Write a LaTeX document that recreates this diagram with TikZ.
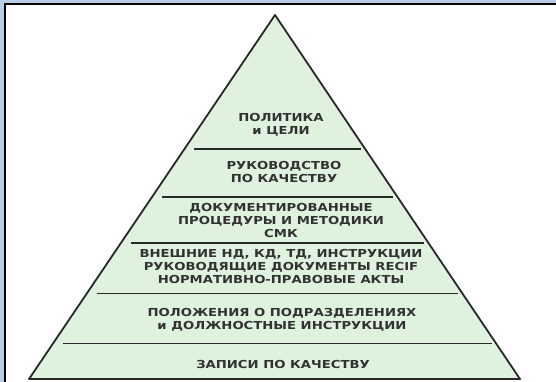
\documentclass[tikz,border=0pt]{standalone}
\usepackage{fontspec}
\newfontfamily\pyrfont{DejaVu Sans}[FakeStretch=1.2]
\definecolor{frameblue}{RGB}{183,206,230}
\definecolor{pyrgreen}{RGB}{222,242,222}
\definecolor{pyrline}{RGB}{40,40,40}
\definecolor{pyrtext}{RGB}{50,50,50}
\begin{document}
\begin{tikzpicture}[x=1pt,y=-1pt,
  lbl/.style={align=center,inner sep=0pt,text=pyrtext,
    font=\pyrfont\bfseries\fontsize{11}{13}\selectfont},
  divider/.style={draw=pyrline,line width=1.8pt},
  outline/.style={draw=pyrline,line width=1.8pt,line join=round,fill=pyrgreen}]
\useasboundingbox (0,0) rectangle (556,382);
\fill[white] (0,0) rectangle (556,382);
% frame
\fill[frameblue] (0,0) rectangle (556,3.5);
\fill[frameblue] (0,0) rectangle (3.5,382);
\fill[black] (3.5,3.5) rectangle (556,5.5);
\fill[black] (3.5,3.5) rectangle (5.5,382);
% pyramid
\coordinate (apex) at (275,15);
\coordinate (bl) at (29,379);
\coordinate (br) at (520,379);
\draw[outline] (apex) -- (br) -- (bl) -- cycle;
% dividers
\coordinate (d1l) at (194,149);   \coordinate (d1r) at (361,149);
\coordinate (d2l) at (162,197);   \coordinate (d2r) at (393,197);
\coordinate (d3l) at (131,243);   \coordinate (d3r) at (424,243);
\coordinate (d4l) at (97,293.5);  \coordinate (d4r) at (458,293.5);
\coordinate (d5l) at (63,343.5);  \coordinate (d5r) at (492,343.5);
\draw[divider] (d1l) -- (d1r);
\draw[divider] (d2l) -- (d2r);
\draw[divider] (d3l) -- (d3r);
\draw[divider] (d4l) -- (d4r);
\draw[divider] (d5l) -- (d5r);
% labels
\node[lbl] (t1) at (281,125) {ПОЛИТИКА\\и ЦЕЛИ};
\node[lbl] (t2) at (284,172) {РУКОВОДСТВО\\ПО КАЧЕСТВУ};
\node[lbl] (t3) at (281,220.5) {ДОКУМЕНТИРОВАННЫЕ\\ПРОЦЕДУРЫ И МЕТОДИКИ\\СМК};
\node[lbl] (t4) at (281,266) {ВНЕШНИЕ НД, КД, ТД, ИНСТРУКЦИИ\\РУКОВОДЯЩИЕ ДОКУМЕНТЫ RECIF\\НОРМАТИВНО-ПРАВОВЫЕ АКТЫ};
\node[lbl] (t5) at (282,319.5) {ПОЛОЖЕНИЯ О ПОДРАЗДЕЛЕНИЯХ\\и ДОЛЖНОСТНЫЕ ИНСТРУКЦИИ};
\node[lbl] (t6) at (283,364) {ЗАПИСИ ПО КАЧЕСТВУ};
\end{tikzpicture}
\end{document}
